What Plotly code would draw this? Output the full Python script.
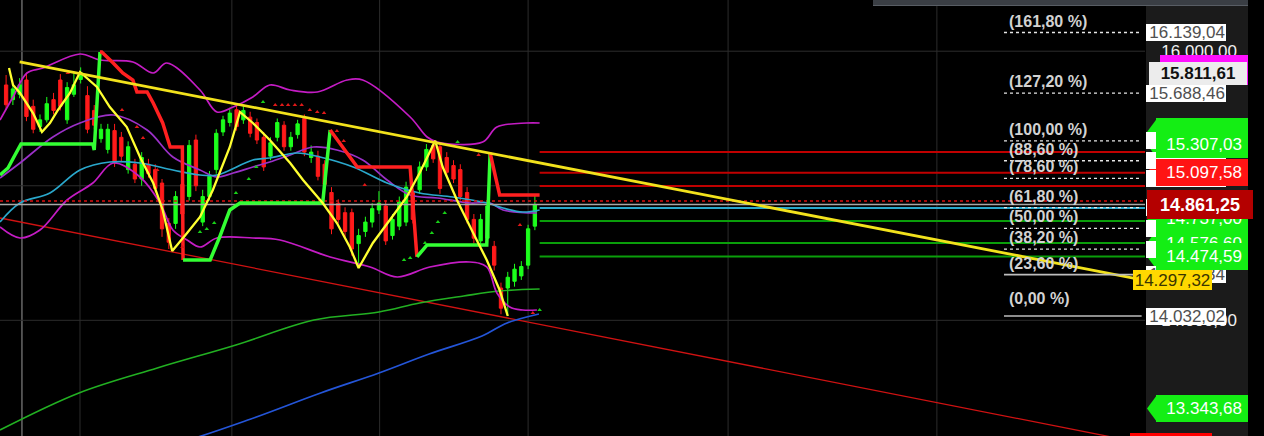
import plotly.graph_objects as go

# ---------------- figure geometry ----------------
W, H = 1264, 436
PLOT_W = 1145            # width of the price pane; the rest is the price scale
FONT = "Liberation Sans, Arial, sans-serif"

# ---------------- candles (bar index 0..78) ----------------
opens = [15749, 15640, 15680, 15786, 15590, 15440, 15490, 15640, 15786, 15490,
         15680, 15790, 15670, 15560, 15350, 15270, 15410, 15360, 15120, 15160,
         15050, 15160, 15120, 15020, 14720, 14720, 15010, 14920, 15340, 14730,
         14920, 15120, 15400, 15470, 15565, 15490, 15510, 15470, 15360, 15220,
         15360, 15450, 15290, 15380, 15500, 15210, 15220, 15160, 14950, 14870,
         14800, 14800, 14570, 14660, 14730, 14820, 14850, 14630, 14700, 14730,
         14950, 14970, 15140, 15300, 15290, 15210, 15150, 15120, 14950, 14750,
         14590, 14610, 14550, 14240, 14240, 14290, 14330, 14410, 14700]
highs = [15823, 15760, 15800, 15840, 15640, 15530, 15660, 15690, 15830, 15770,
         15850, 15880, 15740, 15600, 15460, 15460, 15460, 15400, 15330, 15200,
         15250, 15200, 15160, 15050, 14760, 14960, 15050, 15340, 15380, 14970,
         15110, 15420, 15520, 15580, 15600, 15600, 15550, 15500, 15400, 15360,
         15500, 15480, 15400, 15490, 15530, 15300, 15260, 15190, 14990, 14900,
         14840, 14830, 14680, 14770, 14870, 14960, 14890, 14790, 14920, 15030,
         14980, 15180, 15310, 15334.24, 15320, 15250, 15190, 15160, 14990, 14790,
         14790, 14890, 14590, 14280, 14360, 14420, 14440, 14710, 14930]
lows = [15565, 15600, 15650, 15480, 15390, 15400, 15470, 15530, 15560, 15460,
        15660, 15760, 15390, 15420, 15320, 15240, 15140, 15180, 15090, 15020,
        15000, 15060, 14950, 14620, 14530, 14680, 14760, 14890, 14960, 14700,
        14890, 15090, 15370, 15440, 15410, 15460, 15360, 15310, 15110, 15190,
        15330, 15260, 15260, 15350, 15220, 15170, 15040, 14980, 14640, 14720,
        14620, 14480, 14400, 14620, 14690, 14790, 14560, 14600, 14670, 14700,
        14720, 14940, 15110, 15170, 14940, 15070, 15020, 14890, 14720, 14570,
        14560, 14580, 14370, 14045, 14032.02, 14250, 14300, 14380, 14670]
closes = [15602, 15720, 15750, 15515, 15420, 15490, 15610, 15560, 15590, 15730,
          15750, 15840, 15420, 15450, 15420, 15420, 15170, 15220, 15290, 15050,
          15210, 15090, 14980, 14680, 14580, 14920, 14790, 15300, 15000, 14920,
          15070, 15390, 15490, 15540, 15440, 15560, 15390, 15340, 15140, 15320,
          15470, 15290, 15360, 15460, 15250, 15250, 15070, 15010, 14680, 14750,
          14660, 14530, 14630, 14730, 14830, 14870, 14590, 14750, 14880, 14990,
          14750, 15140, 15270, 15200, 14980, 15100, 15050, 14920, 14750, 14610,
          14750, 14850, 14410, 14090, 14320, 14380, 14400, 14680, 14861.25]
bars = list(range(len(closes)))

# ---------------- indicators (x = bar index, y = price) ----------------
bb_upper_x = [-0.9, 1.02, 3.08, 5.44, 10.9, 13.85, 18.7, 21.7, 23.7, 28.6, 31.1, 33.5, 36.4,
              38.9, 41.9, 45.9, 50.3, 52.6, 59.6, 62.1, 63.6, 70.3, 72.4, 76.8, 78.7]
bb_upper_y = [15488.8, 15659.7, 15838.1, 15875.2, 15979.3, 15934.7, 15919.8, 15838.1, 15912.4,
              15711.7, 15548.2, 15585.4, 15659.7, 15748.9, 15711.7, 15696.9, 15786.0, 15786.0,
              15511.0, 15362.4, 15325.3, 15325.3, 15436.7, 15466.5, 15466.5]
bb_mid_x = [-0.9, 2.05, 6.9, 10.9, 15.8, 20.8, 24.6, 28.6, 31.1, 33.5, 36.4, 38.9, 41.9,
            45.3, 48.8, 52.6, 56.2, 59.6, 63.6, 68.4, 71.4, 73.3, 78.3]
bb_mid_y = [15057.7, 15169.2, 15362.4, 15466.5, 15525.9, 15414.4, 15213.8, 15117.2, 15065.1,
            15094.9, 15139.5, 15176.6, 15228.6, 15288.1, 15265.8, 15191.5, 15042.8, 14931.4,
            14909.1, 14871.9, 14871.9, 14819.9, 14797.6]
bb_low_x = [-0.9, 2.05, 5.0, 9.0, 12.8, 15.8, 19.75, 22.7, 24.6, 26.7, 28.6, 31.1, 36.4, 40.4,
            47.8, 53.7, 57.7, 62.5, 68.4, 70.9, 72.4, 74.3, 76.2, 78.3]
bb_low_y = [14693.5, 14611.8, 14671.2, 14894.2, 15020.5, 15169.2, 15065.1, 14871.9, 14671.2,
            14596.9, 14544.9, 14611.8, 14611.8, 14596.9, 14470.6, 14396.3, 14322.0, 14396.3,
            14433.4, 14396.3, 14203.1, 14099.0, 14076.7, 14076.7]
cyan_x = [-0.9, 2.05, 6.47, 10.9, 15.3, 19.75, 24.6, 28.6, 31.1, 36.4, 38.9, 42.9, 46.3, 51.2,
          56.2, 61.0, 65.9, 70.9, 73.3, 76.2, 78.7]
cyan_y = [14730.7, 14871.9, 14946.2, 15117.2, 15176.6, 15169.2, 15117.2, 15080.0, 15080.0,
          15191.5, 15206.3, 15243.5, 15213.8, 15139.5, 15020.5, 14946.2, 14916.5, 14871.9,
          14834.7, 14805.0, 14819.9]
sma_green_x = [-0.9, 10.75, 22.3, 33.9, 45.4, 55.0, 61.0, 67.5, 72.8, 78.7]
sma_green_y = [13184.8, 13459.9, 13645.6, 13816.6, 14002.4, 14061.8, 14128.7, 14180.8, 14217.9, 14232.8]
sma_blue_x = [17.0, 24.9, 36.0, 46.4, 55.0, 62.4, 70.2, 73.9, 78.6]
sma_blue_y = [12990.0, 13080.0, 13265.0, 13459.9, 13608.5, 13749.7, 13883.5, 13980.1, 14047.0]

# supertrend: segments alternate green / red
st_x = [[-0.9, 0.28, 1.31, 2.2, 12.8, 13.0, 13.85],
        [13.85, 14.1, 15.8, 17.2, 18.7, 19.3, 20.8, 21.7, 23.1, 24.2, 26.0, 26.1],
        [26.1, 30.1, 31.5, 33.0, 34.5, 46.7, 47.8],
        [47.8, 51.8, 59.6, 60.6],
        [60.6, 62.1, 70.9, 71.4],
        [71.4, 72.8, 78.7]]
st_y = [[15080.0, 15132.0, 15228.6, 15310.4, 15310.4, 15265.8, 15994.0],
        [15994.0, 15994.0, 15912.4, 15838.1, 15786.0, 15696.9, 15696.9, 15615.1, 15466.5,
         15288.1, 15288.1, 14448.3],
        [14448.3, 14448.3, 14619.2, 14819.9, 14871.9, 14871.9, 15414.4],
        [15414.4, 15139.5, 15139.5, 14470.6],
        [14470.6, 14559.8, 14559.8, 15243.5],
        [15243.5, 14931.4, 14931.4]]
st_up = [True, False, True, False, True, False]

zz_x = [0.43, 1.02, 2.05, 3.97, 5.29, 6.47, 7.65, 9.42, 10.9, 13.4, 15.3, 17.8, 19.75, 21.7,
        23.1, 24.5, 26.7, 28.6, 30.5, 33.0, 34.5, 36.4, 38.9, 41.9, 43.8, 46.7, 48.8, 50.7,
        52.0, 54.1, 56.6, 59.1, 61.0, 63.3, 64.4, 66.5, 68.9, 70.9, 72.8, 74.0]
zz_y = [15875.2, 15748.9, 15689.4, 15540.8, 15399.6, 15466.5, 15563.1, 15689.4, 15845.5,
        15734.0, 15585.4, 15436.7, 15213.8, 15020.5, 14819.9, 14515.2, 14648.9, 14767.9,
        14968.5, 15288.1, 15548.2, 15466.5, 15340.1, 15169.2, 15042.8, 14871.9, 14723.3,
        14544.9, 14388.8, 14574.6, 14745.6, 14916.5, 15094.9, 15334.24, 15139.5, 14894.2,
        14648.9, 14448.3, 14225.3, 14032.02]

tri_red_x = [9.1, 17.1, 19.3, 20.2, 22.3, 26.0, 39.7, 40.7, 41.6, 42.6, 43.6, 44.8, 45.9,
             46.9, 48.8, 49.8, 52.9, 69.7, 75.8, 77.7]
tri_red_y = [15838.1, 15563.1, 15436.7, 15355.0, 15117.2, 14544.9, 15600.2, 15600.2, 15600.2,
             15600.2, 15600.2, 15563.1, 15548.2, 15540.8, 15407.0, 15332.7, 15005.7, 15228.6,
             14708.4, 14054.4]
tri_green_x = [28.6, 29.6, 30.7, 33.9, 35.8, 36.9, 37.9, 58.7, 59.6, 61.8, 62.8, 63.7, 64.7, 66.6, 78.7]
tri_green_y = [14656.4, 14678.7, 14723.3, 14946.2, 15050.3, 15139.5, 15622.5, 14448.3, 14463.1,
               14574.6, 14648.9, 14730.7, 14797.6, 15325.3, 14076.7]

# trend lines
yellow_tl_x = [2.0, 168.0]
yellow_tl_y = [15920.0, 14297.32]
red_tl_x = [-0.9, 168.0]
red_tl_y = [14760.4, 13083.8]

# horizontal levels drawn to the right of the last bar
levels_start, levels_end = 78.7, 168.0
lvl_red = [15250.9, 15097.58, 14998.2]
lvl_green = [14738.1, 14574.6, 14474.59]
lvl_cyan = [14834.7]
last_price = 14861.25
dashed_level = 14886.8

# fibonacci
fib_high, fib_low = 15334.24, 14032.02
fib_ratios = [1.618, 1.272, 1.0, 0.886, 0.786, 0.618, 0.5, 0.382, 0.236, 0.0]
fib_names = ["(161,80 %)", "(127,20 %)", "(100,00 %)", "(88,60 %)", "(78,60 %)",
             "(61,80 %)", "(50,00 %)", "(38,20 %)", "(23,60 %)", "(0,00 %)"]
# value boxes on the price scale (levels hidden behind other labels carry no text)
fib_values = ["16.139,04", "15.688,46", "", "", "", "", "", "", "14.339,34", "14.032,02"]
fib_x0, fib_x1 = 147.2, 167.5

grid_x = [2.34, 10.9, 33.3, 55.1, 77.0, 106.5, 137.3]
grid_y = [16000, 15000, 14000]

Y_RANGE = [13140.2, 16380.6]
X_RANGE = [-0.9, 168.0]

# price scale labels, in drawing order (later ones cover earlier ones)
rl_price = [14000.0, 16000.0, 15835.0, 15811.61, 15400.0, 15307.03, 15097.58, 14755.0,
            14574.6, 14474.59, 14861.25, 14297.32, 13343.68, 13083.8]
rl_text = ["14.000,00", "16.000,00", "", "15.811,61", "", "15.307,03", "15.097,58", "14.737,00",
           "14.576,60", "14.474,59", "14.861,25", "14.297,32", "13.343,68", "13.083,80"]
rl_kind = ["tick", "tick", "magenta", "silver", "green", "green", "red", "green",
           "green", "green", "darkred", "yellow", "green", "redlow"]

# ---------------- helpers ----------------
def pfrac(p):
    return p / PLOT_W

PX_PER_UNIT = H / (Y_RANGE[1] - Y_RANGE[0])

fig = go.Figure()

def add_line(x, y, color, width, dash=None, shape="linear"):
    fig.add_trace(go.Scatter(x=x, y=y, mode="lines", line=dict(color=color, width=width, dash=dash, shape=shape),
                             hoverinfo="skip", showlegend=False))

# ---------------- traces ----------------
add_line(red_tl_x, red_tl_y, "#d01212", 1.3)
add_line(sma_green_x, sma_green_y, "#22b022", 1.6, shape="spline")
add_line(sma_blue_x, sma_blue_y, "#2455d8", 1.7, shape="spline")
add_line(bb_upper_x, bb_upper_y, "#c41cc4", 1.7, shape="spline")
add_line(bb_low_x, bb_low_y, "#c41cc4", 1.7, shape="spline")
add_line(bb_mid_x, bb_mid_y, "#9b30c8", 1.7, shape="spline")
add_line(cyan_x, cyan_y, "#2aa8cc", 1.7, shape="spline")

for v in lvl_red:
    add_line([levels_start, levels_end], [v, v], "#c00000", 2)
for v in lvl_green:
    add_line([levels_start, levels_end], [v, v], "#0a9e0a", 2)
for v in lvl_cyan:
    add_line([levels_start, levels_end], [v, v], "#2aa8cc", 2)
add_line([X_RANGE[0], X_RANGE[1]], [dashed_level, dashed_level], "#e01010", 1.3, dash="dot")
add_line([X_RANGE[0], X_RANGE[1]], [last_price, last_price], "#a8a8a8", 1.5)

fig.add_trace(go.Candlestick(
    x=bars, open=opens, high=highs, low=lows, close=closes,
    increasing=dict(line=dict(color="#1cff1c", width=1), fillcolor="#1cff1c"),
    decreasing=dict(line=dict(color="#ff1a1a", width=1), fillcolor="#ff1a1a"),
    whiskerwidth=0, hoverinfo="skip", showlegend=False))

for sx, sy, up in zip(st_x, st_y, st_up):
    add_line(sx, sy, "#33ff33" if up else "#ff2020", 3.5)

add_line(zz_x, zz_y, "#ffff30", 2.3)

fig.add_trace(go.Scatter(x=tri_red_x, y=tri_red_y, mode="markers",
                         marker=dict(symbol="triangle-up", size=4, color="#e01818"),
                         hoverinfo="skip", showlegend=False))
fig.add_trace(go.Scatter(x=tri_green_x, y=tri_green_y, mode="markers",
                         marker=dict(symbol="triangle-up", size=4, color="#18d018"),
                         hoverinfo="skip", showlegend=False))

add_line(yellow_tl_x, yellow_tl_y, "#f2e21c", 2.8)

# ---------------- grid & panels ----------------
shapes = []
for i, gx in enumerate(grid_x):
    shapes.append(dict(type="line", xref="x", yref="paper", x0=gx, x1=gx, y0=0, y1=1, layer="below",
                       line=dict(color="#9a9a9a" if i == 0 else "#2c2c2c", width=1)))
for gy in grid_y:
    shapes.append(dict(type="line", xref="paper", yref="y", x0=0, x1=1, y0=gy, y1=gy, layer="below",
                       line=dict(color="#2c2c2c", width=1)))
# price-scale panel and top tool bar
shapes.append(dict(type="rect", xref="paper", yref="paper", x0=pfrac(1146), x1=pfrac(1248), y0=0, y1=1,
                   fillcolor="#1b1b1b", line=dict(width=0), layer="below"))
shapes.append(dict(type="rect", xref="paper", yref="paper", x0=pfrac(873), x1=pfrac(1248),
                   y0=1 - 6 / H, y1=1, fillcolor="#3a3e44", line=dict(width=0), layer="above"))
shapes.append(dict(type="rect", xref="paper", yref="paper", x0=pfrac(873), x1=pfrac(1248),
                   y0=1 - 6 / H, y1=1 - 5 / H, fillcolor="#585d64", line=dict(width=0), layer="above"))

# fibonacci lines
fib_levels = [fib_low + r * (fib_high - fib_low) for r in fib_ratios]
for r, lv in zip(fib_ratios, fib_levels):
    solid = r in (0.236, 0.0)
    shapes.append(dict(type="line", xref="x", yref="y", x0=fib_x0, x1=fib_x1, y0=lv, y1=lv, layer="above",
                       line=dict(color="#bdbdbd" if solid else "#e6e6e6", width=1.6 if solid else 1.3,
                                 dash=None if solid else "dot")))

annotations = []
for r, name, lv in zip(fib_ratios, fib_names, fib_levels):
    annotations.append(dict(xref="x", yref="y", x=fib_x0 + 0.45, y=lv, xanchor="left", yanchor="bottom",
                            yshift=7 if r == 0.0 else 1, showarrow=False, text=f"<b>{name}</b>",
                            font=dict(family=FONT, size=16, color="#d2d2d2")))

# ---------------- price scale labels ----------------
STYLE = {
    # kind: bg, fg, left px, right px, height, font size, bold, pad, align, notch
    "tick":    (None,      "#f0f0f0", 1155, 1237, 18, 17, False, 0, "right", False),
    "fib":     ("#ffffff", "#505050", 1146, 1226, 17, 17, False, 1, "right", False),
    "magenta": ("#ff10ff", "#ff10ff", 1160, 1248, 30, 10, False, 0, "center", False),
    "silver":  ("#ececec", "#111111", 1149, 1247, 23, 17, True, 0, "center", False),
    "green":   ("#14ee14", "#ffffff", 1156, 1248, 27, 17, False, 6, "right", True),
    "red":     ("#ff1414", "#ffffff", 1156, 1248, 27, 17, False, 6, "right", True),
    "darkred": ("#b40000", "#ffffff", 1147, 1253, 29, 18, True, 0, "center", False),
    "yellow":  ("#ffd800", "#3a3500", 1133, 1212, 20, 17, False, 0, "center", False),
    "redlow":  ("#ff0000", "#ffffff", 1130, 1212, 22, 17, False, 0, "center", False),
}
YSHIFT = {"magenta": 3, "silver": 3}

def add_label(price, text, kind):
    bg, fg, left, right, h, size, bold, pad, align, notch = STYLE[kind]
    txt = text if text else "\u00a0"
    if bold:
        txt = f"<b>{txt}</b>"
    # labels whose value lies below the visible range stay pinned to the edge, shifted in pixels
    y_anchor = max(price, Y_RANGE[0] + 1.0)
    yshift = YSHIFT.get(kind, 0) + (price - y_anchor) * PX_PER_UNIT
    annotations.append(dict(
        xref="paper", yref="y", x=pfrac(left), y=y_anchor, xanchor="left", yanchor="middle",
        yshift=yshift, showarrow=False, text=txt,
        bgcolor=bg if bg else "rgba(0,0,0,0)", borderwidth=0, borderpad=pad,
        width=right - left - 2 * pad, height=h - 2 * pad, align=align, valign="middle",
        font=dict(family=FONT, size=size, color=fg)))
    if notch:
        shapes.append(dict(type="path", xref="paper", yref="y", xsizemode="pixel", ysizemode="pixel",
                           xanchor=1, yanchor=price,
                           path=f"M {1147 - PLOT_W},0 L {left - PLOT_W + 1},{h / 2} L {left - PLOT_W + 1},{-h / 2} Z",
                           fillcolor=bg, line=dict(width=0), layer="above"))

# drawing order: axis ticks, fib value boxes, then indicator labels
add_label(rl_price[0], rl_text[0], rl_kind[0])
add_label(rl_price[1], rl_text[1], rl_kind[1])
for lv, txt in zip(fib_levels, fib_values):
    add_label(lv, txt, "fib")
for p, t, k in zip(rl_price[2:], rl_text[2:], rl_kind[2:]):
    add_label(p, t, k)

fig.update_layout(
    width=W, height=H,
    margin=dict(l=0, r=W - PLOT_W, t=0, b=0, pad=0),
    paper_bgcolor="#000000", plot_bgcolor="#000000",
    xaxis=dict(range=X_RANGE, visible=False, showgrid=False, zeroline=False,
               rangeslider=dict(visible=False), fixedrange=True),
    yaxis=dict(range=Y_RANGE, visible=False, showgrid=False, zeroline=False, fixedrange=True),
    showlegend=False, font=dict(family=FONT),
    shapes=shapes, annotations=annotations,
    hovermode=False,
)

fig.write_html("out.html", config={"displayModeBar": False},
               post_script="document.body.style.margin='0';document.body.style.background='#000';")
